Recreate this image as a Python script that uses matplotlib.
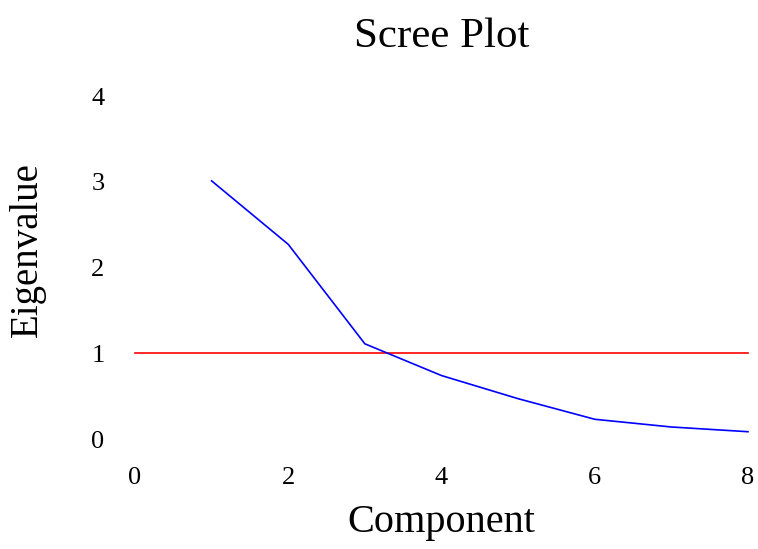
import matplotlib
matplotlib.use("Agg")
import matplotlib.pyplot as plt

components = [1, 2, 3, 4, 5, 6, 7, 8]
eigenvalues = [3.01, 2.27, 1.11, 0.74, 0.47, 0.23, 0.14, 0.085]
cutoff_x = [0, 8]
cutoff_y = [1, 1]
xticks = [0, 2, 4, 6, 8]
yticks = [0, 1, 2, 3, 4]

plt.rcParams['font.family'] = ['Liberation Serif', 'DejaVu Serif']

fig = plt.figure(figsize=(7.58, 5.49), dpi=100)
ax = fig.add_axes([135/758, 1-439/549, (748-135)/758, (439-96)/549])
ax.plot(cutoff_x, cutoff_y, color='#ff0000', lw=1.2, clip_on=False)
ax.plot(components, eigenvalues, color='#0000ff', lw=1.2, clip_on=False)
ax.set_xlim(0, 8)
ax.set_ylim(0, 4)
ax.set_xticks(xticks)
ax.set_yticks(yticks)
for s in ax.spines.values():
    s.set_visible(False)
ax.tick_params(length=0, labelsize=19)
ax.tick_params(axis='y', pad=22)
ax.tick_params(axis='x', pad=20)
ax.set_title('Scree Plot', fontsize=31, pad=35)
ax.set_xlabel('Component', fontsize=29, labelpad=11)
ax.set_ylabel('Eigenvalue', fontsize=28)
ax.yaxis.set_label_coords(-0.145, 0.551)
fig.savefig('out.png', dpi=100)
